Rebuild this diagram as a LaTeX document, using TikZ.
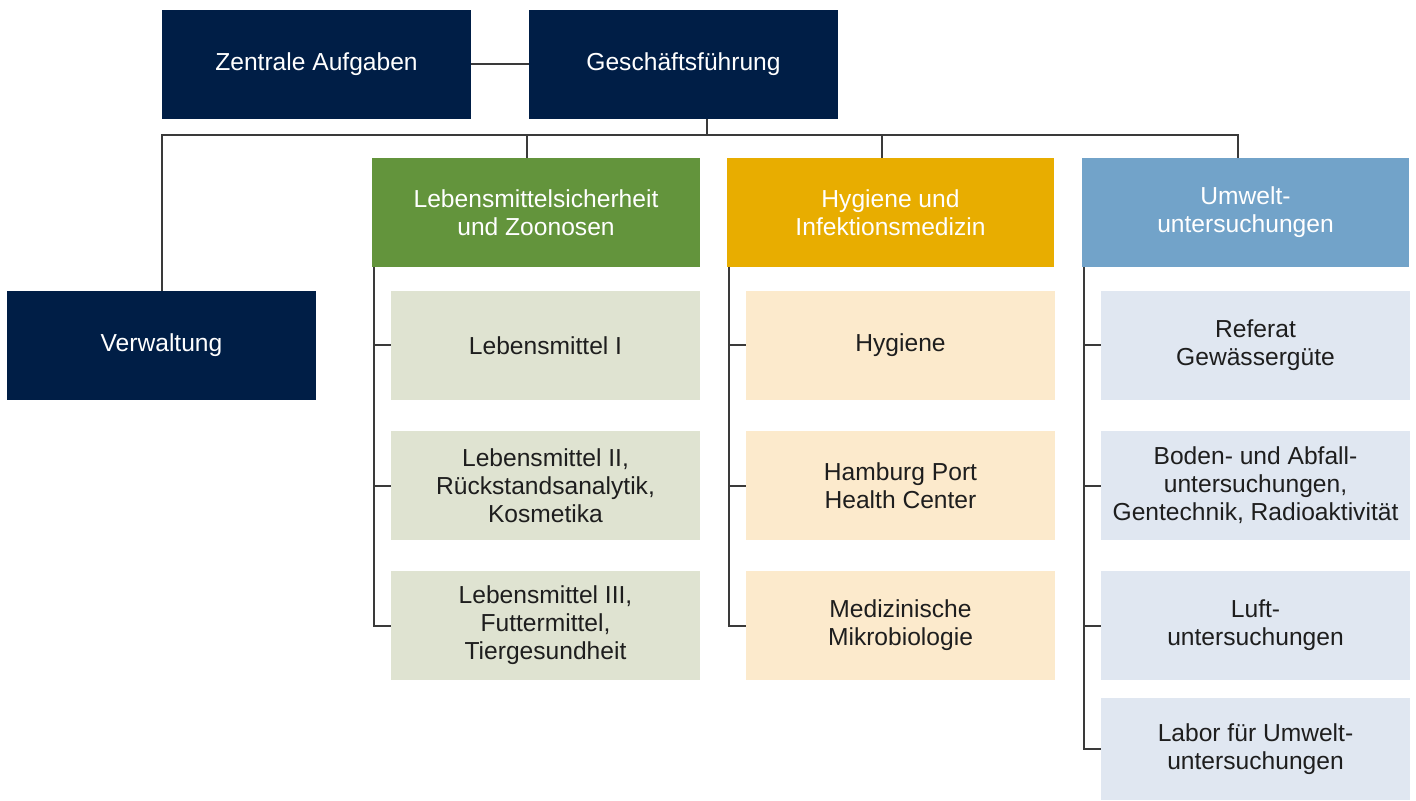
\documentclass[tikz,border=0pt]{standalone}
\usepackage{fontspec}
\setmainfont{Liberation Sans}
\definecolor{navy}{HTML}{001E46}
\definecolor{hgreen}{HTML}{63943C}
\definecolor{hyellow}{HTML}{E8AD00}
\definecolor{hblue}{HTML}{72A3C9}
\definecolor{lgreen}{HTML}{DFE3D1}
\definecolor{lyellow}{HTML}{FCEACC}
\definecolor{lblue}{HTML}{E0E7F1}
\definecolor{linec}{HTML}{3A3A3A}
\definecolor{txt}{HTML}{1E1E1E}
\begin{document}
\begin{tikzpicture}[x=0.5pt,y=-0.5pt,
  box/.style={inner sep=2pt, align=center, font=\fontsize{12.3}{14}\selectfont,
    minimum width=154.5pt, minimum height=54.5pt},
  darkbox/.style={box, fill=navy, text=white},
  headbox/.style={box, text=white, minimum width=164pt},
  subbox/.style={box, text=txt},
  conn/.style={draw=linec, line width=1pt}]
\useasboundingbox (0,0) rectangle (1416,801);
% top level
\node[darkbox] (zen) at (316.5,64.5) {Zentrale Aufgaben};
\node[darkbox] (ges) at (683.5,64.5) {Geschäftsführung};
\node[darkbox] (ver) at (161.5,345.5) {Verwaltung};
% headers
\node[headbox, fill=hgreen] (hG) at (536,212.5) {Lebensmittelsicherheit\\und Zoonosen};
\node[headbox, fill=hyellow, minimum width=163.5pt] (hY) at (890.5,212.5) {Hygiene und\\Infektionsmedizin};
\node[headbox, fill=hblue, minimum width=163.5pt] (hB) at (1245.5,212.5) {Umwelt-\\untersuchungen};
% green subs
\node[subbox, fill=lgreen] (g1) at (545.5,345.5) {Lebensmittel I};
\node[subbox, fill=lgreen] (g2) at (545.5,485.5) {Lebensmittel II,\\Rückstandsanalytik,\\Kosmetika};
\node[subbox, fill=lgreen] (g3) at (545.5,625.5) {Lebensmittel III,\\Futtermittel,\\Tiergesundheit};
% yellow subs
\node[subbox, fill=lyellow] (y1) at (900.5,345.5) {Hygiene};
\node[subbox, fill=lyellow] (y2) at (900.5,485.5) {Hamburg Port\\Health Center};
\node[subbox, fill=lyellow] (y3) at (900.5,625.5) {Medizinische\\Mikrobiologie};
% blue subs
\node[subbox, fill=lblue] (b1) at (1255.5,345.5) {Referat\\Gewässergüte};
\node[subbox, fill=lblue] (b2) at (1255.5,485.5) {Boden- und Abfall-\\untersuchungen,\\Gentechnik, Radioaktivität};
\node[subbox, fill=lblue] (b3) at (1255.5,625.5) {Luft-\\untersuchungen};
\node[subbox, fill=lblue, minimum height=51pt] (b4) at (1255.5,749) {Labor für Umwelt-\\untersuchungen};
% coordinates
\coordinate (busR) at (1238,135);
\coordinate (dG) at (707,135);
\coordinate (dL) at (527,135);
\coordinate (dY) at (882,135);
\coordinate (sG) at (374,0);
\coordinate (sY) at (729,0);
\coordinate (sB) at (1084,0);
% connectors
\draw[conn] (zen.east) -- (ges.west);
\draw[conn] (ges.south -| dG) -- (dG);
\draw[conn] (ver.north) |- (busR) -- (hB.north -| busR);
\draw[conn] (dL) -- (hG.north -| dL);
\draw[conn] (dY) -- (hY.north -| dY);
\draw[conn] (hG.south -| sG) |- (g3.west);
\draw[conn] (g1.west -| sG) -- (g1.west);
\draw[conn] (g2.west -| sG) -- (g2.west);
\draw[conn] (hY.south -| sY) |- (y3.west);
\draw[conn] (y1.west -| sY) -- (y1.west);
\draw[conn] (y2.west -| sY) -- (y2.west);
\draw[conn] (hB.south -| sB) |- (b4.west);
\draw[conn] (b1.west -| sB) -- (b1.west);
\draw[conn] (b2.west -| sB) -- (b2.west);
\draw[conn] (b3.west -| sB) -- (b3.west);
\end{tikzpicture}
\end{document}
